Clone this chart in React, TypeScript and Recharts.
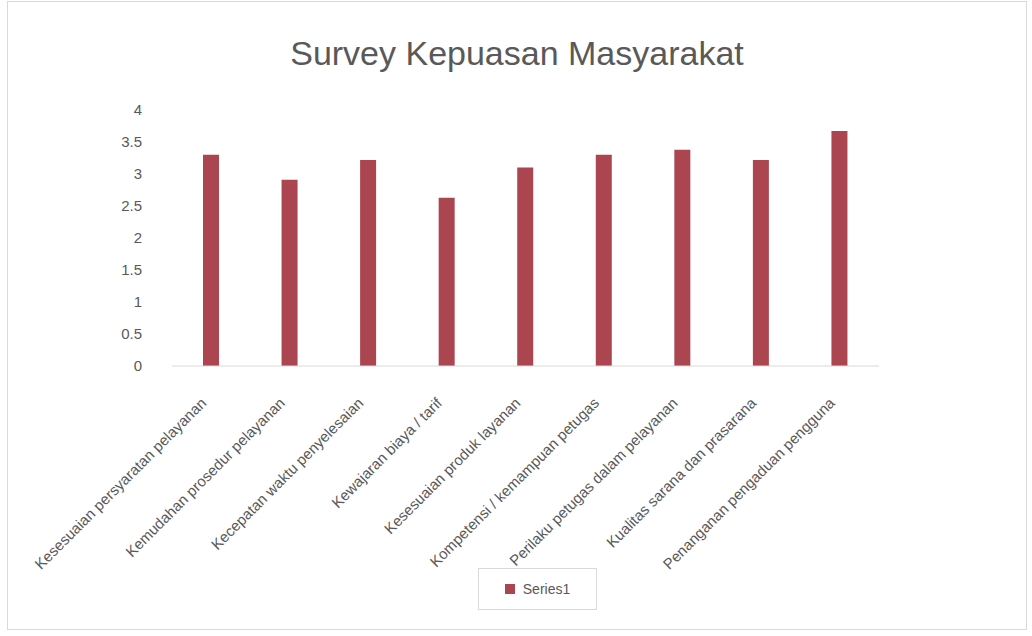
import { BarChart, Bar, XAxis, YAxis, Legend } from 'recharts';

// unsur pelayanan (label sumbu X)
const categories = [
  'Kesesuaian persyaratan pelayanan',
  'Kemudahan prosedur pelayanan',
  'Kecepatan waktu penyelesaian',
  'Kewajaran biaya / tarif',
  'Kesesuaian produk layanan',
  'Kompetensi / kemampuan petugas',
  'Perilaku petugas dalam pelayanan',
  'Kualitas sarana dan prasarana',
  'Penanganan pengaduan pengguna',
];

// nilai rata-rata per unsur
const values = [3.3, 2.91, 3.22, 2.63, 3.1, 3.3, 3.38, 3.22, 3.67];

const yTicks = [0, 0.5, 1, 1.5, 2, 2.5, 3, 3.5, 4];

const seriesName = 'Series1';

const data = categories.map((name, i) => ({ name, value: values[i] }));

const FONT = '"Liberation Sans", Arial, sans-serif';
const GREY = '#595959';
const BAR = '#ab4550';

// label miring -45 derajat, ujung kanan di bawah batang
function SlantTick(props: any) {
  const { x, y, payload } = props;
  const tx = x - 4;
  const ty = y + 30;
  return (
    <text
      x={tx}
      y={ty}
      textAnchor="end"
      fill={GREY}
      fontSize={15}
      fontFamily={FONT}
      transform={`rotate(-45, ${tx}, ${ty})`}
    >
      {payload.value}
    </text>
  );
}

function LegendBox() {
  return (
    <div
      style={{
        width: 117,
        height: 40,
        border: '1px solid #d9d9d9',
        display: 'flex',
        alignItems: 'center',
        justifyContent: 'center',
        gap: 8,
        fontFamily: FONT,
        fontSize: 14,
        color: GREY,
        background: '#fff',
      }}
    >
      <span style={{ width: 10, height: 10, background: BAR, display: 'inline-block' }} />
      <span>{seriesName}</span>
    </div>
  );
}

export default function App() {
  return (
    <div
      style={{
        position: 'absolute',
        left: 7,
        top: 1,
        width: 1020,
        height: 629,
        border: '1px solid #d9d9d9',
        boxSizing: 'border-box',
        background: '#fff',
      }}
    >
      <div
        style={{
          position: 'absolute',
          top: 32,
          left: 0,
          width: '100%',
          textAlign: 'center',
          fontFamily: FONT,
          fontSize: 34,
          color: GREY,
        }}
      >
        Survey Kepuasan Masyarakat
      </div>
      <BarChart
        width={1018}
        height={627}
        data={data}
        margin={{ top: 108, right: 147, left: 20, bottom: 21 }}
        style={{ position: 'absolute', left: 0, top: 0 }}
      >
        <XAxis
          dataKey="name"
          interval={0}
          height={200}
          tick={<SlantTick />}
          tickLine={false}
          axisLine={{ stroke: '#d9d9d9' }}
        />
        <YAxis
          width={144}
          domain={[0, 4]}
          ticks={yTicks}
          interval={0}
          axisLine={false}
          tickLine={false}
          tickSize={0}
          tickMargin={30}
          tick={{ fill: GREY, fontSize: 15, fontFamily: FONT }}
        />
        <Legend
          content={<LegendBox />}
          wrapperStyle={{ position: 'absolute', left: 470, top: 566, width: 119 }}
        />
        <Bar dataKey="value" name={seriesName} fill={BAR} barSize={16} isAnimationActive={false} />
      </BarChart>
    </div>
  );
}
